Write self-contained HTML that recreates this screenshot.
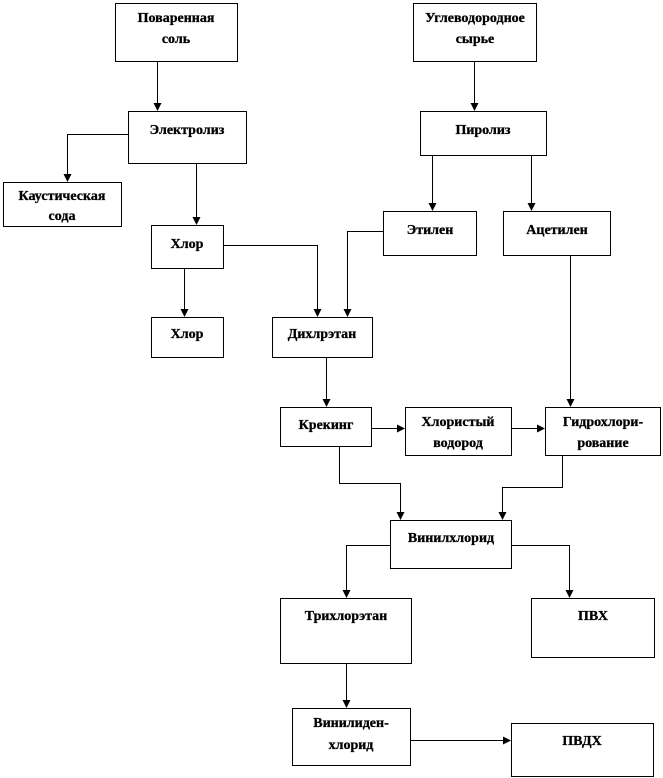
<!DOCTYPE html>
<html><head><meta charset="utf-8"><style>
html,body{margin:0;padding:0;background:#fff;}
svg{display:block;}
text{font-family:"Liberation Serif","DejaVu Serif",serif;font-weight:bold;font-size:14px;fill:#000;text-anchor:middle;stroke:#000;stroke-width:0.3;}
rect{fill:#fff;stroke:#000;stroke-width:1;}
line,polyline{stroke:#000;stroke-width:1;fill:none;}
</style></head><body>
<svg width="663" height="778" viewBox="0 0 663 778">
<defs><marker id="a" markerWidth="8" markerHeight="8" refX="7" refY="4" orient="auto" markerUnits="userSpaceOnUse"><path d="M0,0 L8,4 L0,8 z" fill="#000"/></marker></defs>
<polyline points="157.5,61 157.5,110" marker-end="url(#a)"/>
<polyline points="128,134.5 67.5,134.5 67.5,181" marker-end="url(#a)"/>
<polyline points="196.5,163 196.5,224" marker-end="url(#a)"/>
<polyline points="474.5,61 474.5,110" marker-end="url(#a)"/>
<polyline points="432.5,155 432.5,210" marker-end="url(#a)"/>
<polyline points="531.5,155 531.5,210" marker-end="url(#a)"/>
<polyline points="223,245.5 317.5,245.5 317.5,316" marker-end="url(#a)"/>
<polyline points="184.5,268 184.5,316" marker-end="url(#a)"/>
<polyline points="383,231.5 347.5,231.5 347.5,316" marker-end="url(#a)"/>
<polyline points="570.5,255 570.5,406" marker-end="url(#a)"/>
<polyline points="326.5,357 326.5,406" marker-end="url(#a)"/>
<polyline points="371,428.5 404,428.5" marker-end="url(#a)"/>
<polyline points="511,428.5 544,428.5" marker-end="url(#a)"/>
<polyline points="339.5,446 339.5,483.5 400.5,483.5 400.5,519" marker-end="url(#a)"/>
<polyline points="562.5,455 562.5,487.5 502.5,487.5 502.5,519" marker-end="url(#a)"/>
<polyline points="390,545.5 346.5,545.5 346.5,597" marker-end="url(#a)"/>
<polyline points="511,545.5 569.5,545.5 569.5,597" marker-end="url(#a)"/>
<polyline points="346.5,663 346.5,707" marker-end="url(#a)"/>
<polyline points="410,740.5 510,740.5" marker-end="url(#a)"/>
<rect x="115.5" y="3.5" width="122" height="58"/><text x="176" y="22">Поваренная</text><text x="176" y="43">соль</text>
<rect x="413.5" y="3.5" width="123" height="58"/><text x="475" y="22">Углеводородное</text><text x="475" y="43">сырье</text>
<rect x="128.5" y="111.5" width="118" height="52"/><text x="187" y="134">Электролиз</text>
<rect x="420.5" y="111.5" width="126" height="44"/><text x="483" y="134">Пиролиз</text>
<rect x="3.5" y="182.5" width="118" height="44"/><text x="62" y="200">Каустическая</text><text x="62" y="220">сода</text>
<rect x="383.5" y="211.5" width="93" height="44"/><text x="430" y="234">Этилен</text>
<rect x="503.5" y="211.5" width="107" height="44"/><text x="557" y="234">Ацетилен</text>
<rect x="151.5" y="225.5" width="72" height="43"/><text x="187" y="248">Хлор</text>
<rect x="151.5" y="317.5" width="72" height="40"/><text x="187" y="338">Хлор</text>
<rect x="272.5" y="317.5" width="100" height="40"/><text x="322" y="338">Дихлрэтан</text>
<rect x="280.5" y="407.5" width="91" height="39"/><text x="326" y="429">Крекинг</text>
<rect x="405.5" y="407.5" width="106" height="48"/><text x="458" y="426">Хлористый</text><text x="458" y="447">водород</text>
<rect x="545.5" y="407.5" width="115" height="48"/><text x="603" y="426">Гидрохлори-</text><text x="603" y="447">рование</text>
<rect x="390.5" y="520.5" width="121" height="48"/><text x="451" y="542">Винилхлорид</text>
<rect x="280.5" y="598.5" width="131" height="65"/><text x="346" y="620">Трихлорэтан</text>
<rect x="531.5" y="598.5" width="123" height="59"/><text x="593" y="620">ПВХ</text>
<rect x="292.5" y="708.5" width="118" height="57"/><text x="351" y="727">Винилиден-</text><text x="351" y="749">хлорид</text>
<rect x="511.5" y="723.5" width="142" height="53"/><text x="582" y="745">ПВДХ</text>
</svg>
</body></html>
